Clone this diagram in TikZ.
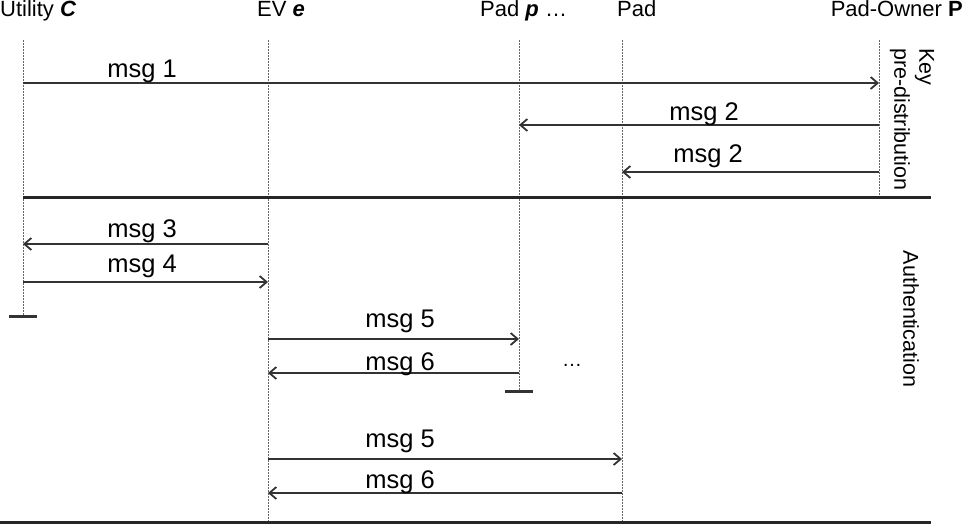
\documentclass[tikz,border=0pt]{standalone}
\usepackage{fontspec}
\setmainfont{Liberation Sans}
\usetikzlibrary{arrows.meta}
\begin{document}
\begin{tikzpicture}[x=1pt,y=-1pt,
  life/.style={draw=black!60, dash pattern=on 2pt off 1pt, line width=1pt},
  msgarrow/.style={draw=black!80, line width=1.4pt, -{Straight Barb[length=7pt,width=12pt,line width=1.8pt]}},
  sep/.style={draw=black!85, line width=3pt},
  endbar/.style={draw=black!80, line width=3pt},
  lbl/.style={font=\fontsize{25.5}{30}\selectfont, anchor=base, inner sep=0pt},
  head/.style={font=\fontsize{22}{26}\selectfont, inner sep=0pt},
  phase/.style={font=\fontsize{21.5}{25}\selectfont, rotate=-90, inner sep=0pt, align=left}]
\useasboundingbox (0,0) rectangle (964,528);

% headers
\node[head, anchor=base west] (hC) at (0,16) {Utility \textbf{\textit{C}}};
\node[head, anchor=base west] (hE) at (257,16) {EV \textbf{\textit{e}}};
\node[head, anchor=base west] (hp) at (480,16) {Pad \textbf{\textit{p}} …};
\node[head, anchor=base west] (hP2) at (617,16) {Pad};
\node[head, anchor=base east] (hO) at (963,16) {Pad-Owner \textbf{P}};

% lifeline coordinates
\coordinate (Ct) at (23,40);  \coordinate (Cb) at (23,316);
\coordinate (Et) at (268,40); \coordinate (Eb) at (268,522);
\coordinate (pt) at (519,40); \coordinate (pb) at (519,391);
\coordinate (Qt) at (622,40); \coordinate (Qb) at (622,522);
\coordinate (Ot) at (879,40); \coordinate (Ob) at (879,197);

\draw[life] (Ct) -- (Cb);
\draw[life] (Et) -- (Eb);
\draw[life] (pt) -- (pb);
\draw[life] (Qt) -- (Qb);
\draw[life] (Ot) -- (Ob);

% end bars
\coordinate (Cbl) at (9,316); \coordinate (Cbr) at (37,316);
\draw[endbar] (Cbl) -- (Cbr);
\coordinate (pbl) at (505,391); \coordinate (pbr) at (533,391);
\draw[endbar] (pbl) -- (pbr);

% separators
\coordinate (s1l) at (23,197); \coordinate (s1r) at (931,197);
\draw[sep] (s1l) -- (s1r);
\coordinate (s2l) at (0,522); \coordinate (s2r) at (931,522);
\draw[sep] (s2l) -- (s2r);

% messages
\coordinate (m1a) at (23,83);  \coordinate (m1b) at (879,83);
\draw[msgarrow] (m1a) -- (m1b);
\node[lbl] (l1) at (142,77) {msg 1};

\coordinate (m2a) at (879,125); \coordinate (m2b) at (519,125);
\draw[msgarrow] (m2a) -- (m2b);
\node[lbl] (l2) at (704,120) {msg 2};

\coordinate (m2c) at (879,172); \coordinate (m2d) at (622,172);
\draw[msgarrow] (m2c) -- (m2d);
\node[lbl] (l2b) at (708,162) {msg 2};

\coordinate (m3a) at (268,244); \coordinate (m3b) at (23,244);
\draw[msgarrow] (m3a) -- (m3b);
\node[lbl] (l3) at (142,237) {msg 3};

\coordinate (m4a) at (23,282); \coordinate (m4b) at (268,282);
\draw[msgarrow] (m4a) -- (m4b);
\node[lbl] (l4) at (142,272) {msg 4};

\coordinate (m5a) at (268,339); \coordinate (m5b) at (519,339);
\draw[msgarrow] (m5a) -- (m5b);
\node[lbl] (l5) at (400,327) {msg 5};

\coordinate (m6a) at (519,373); \coordinate (m6b) at (268,373);
\draw[msgarrow] (m6a) -- (m6b);
\node[lbl] (l6) at (400,370) {msg 6};

\node[font=\fontsize{20}{24}\selectfont, inner sep=0pt, anchor=base] (dots) at (572,366) {…};

\coordinate (m7a) at (268,459); \coordinate (m7b) at (622,459);
\draw[msgarrow] (m7a) -- (m7b);
\node[lbl] (l7) at (400,447) {msg 5};

\coordinate (m8a) at (622,493); \coordinate (m8b) at (268,493);
\draw[msgarrow] (m8a) -- (m8b);
\node[lbl] (l8) at (400,488) {msg 6};

% phase labels
\node[phase, anchor=west] (kp) at (912,48) {Key\\pre-distribution};
\node[phase] (auth) at (911,319) {Authentication};
\end{tikzpicture}
\end{document}
